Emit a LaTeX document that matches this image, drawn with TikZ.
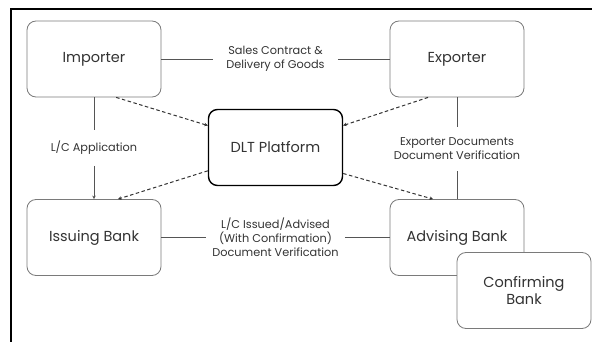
\documentclass[tikz,border=0pt]{standalone}
\usepackage{fontspec}
\setmainfont{Poppins}
\usepackage{tikz}
\usepackage{xcolor}
\usetikzlibrary{arrows.meta}
\definecolor{boxlinecolor}{HTML}{7A7A7A}
\definecolor{linkcolor}{HTML}{555555}
\definecolor{txtcolor}{HTML}{333333}
\tikzstyle{party} = [
    draw=boxlinecolor,
    fill=white,
    line width=0.8pt,
    rectangle,
    rounded corners=9pt,
    minimum width=134pt,
    minimum height=76pt,
    align=center,
    text=txtcolor,
    font=\fontsize{14.5}{17}\selectfont
    ]
\tikzstyle{platform} = [
    party,
    draw=black,
    line width=1.4pt
    ]
\tikzstyle{flowlabel} = [
    align=center,
    inner sep=11pt,
    text=txtcolor,
    font=\fontsize{11.3}{14}\selectfont
    ]
\tikzstyle{link} = [
    draw=linkcolor,
    line width=0.8pt
    ]
\tikzstyle{datalink} = [
    link,
    draw=txtcolor,
    line width=1pt,
    dashed,
    dash pattern=on 3.5pt off 2.5pt,
    -{Stealth[length=3.5pt,width=3.5pt]}
    ]

\begin{document}
\begin{tikzpicture}[x=1pt,y=-1pt]
\useasboundingbox (0,0) rectangle (592,342);
\draw[line width=1.4pt] (11,342) -- (11,9) -- (592,9);

% parties
\node[party] (imp) at (94,59) {Importer};
\node[party] (exp) at (457,59) {Exporter};
\node[platform] (dlt) at (275.5,147.5) {DLT Platform};
\node[party] (iss) at (94,237.5) {Issuing Bank};
\node[party] (adv) at (457,237.5) {Advising Bank};
\node[party] (conf) at (524,290.5) {Confirming\\Bank};

% labels on the links
\node[flowlabel, inner xsep=13pt] (sales) at (275.5,59) {Sales Contract \&\\Delivery of Goods};
\node[flowlabel] (lcapp) at (94,148) {L/C Application};
\node[flowlabel] (expdocs) at (457,149) {Exporter Documents\\Document Verification};
\node[flowlabel, inner xsep=6pt] (lcissued) at (275.5,237.5) {L/C Issued/Advised\\(With Confirmation)\\Document Verification};

\draw[link] (imp) -- (sales);
\draw[link] (sales) -- (exp);
\draw[link] (imp) -- (lcapp);
\draw[link, -{Stealth[length=3.5pt,width=3.5pt]}] (lcapp) -- (iss);
\draw[link] (exp) -- (expdocs);
\draw[link] (expdocs) -- (exp.south |- adv.north);
\draw[link] (iss) -- (lcissued);
\draw[link] (lcissued) -- (adv);

% platform
\draw[datalink] (imp.-60) -- (dlt.162);
\draw[datalink] (exp.-127) -- (dlt.18);
\draw[datalink] (dlt.-161) -- (iss.58);
\draw[datalink] (dlt.-21) -- (adv.122);
\end{tikzpicture}
\end{document}
